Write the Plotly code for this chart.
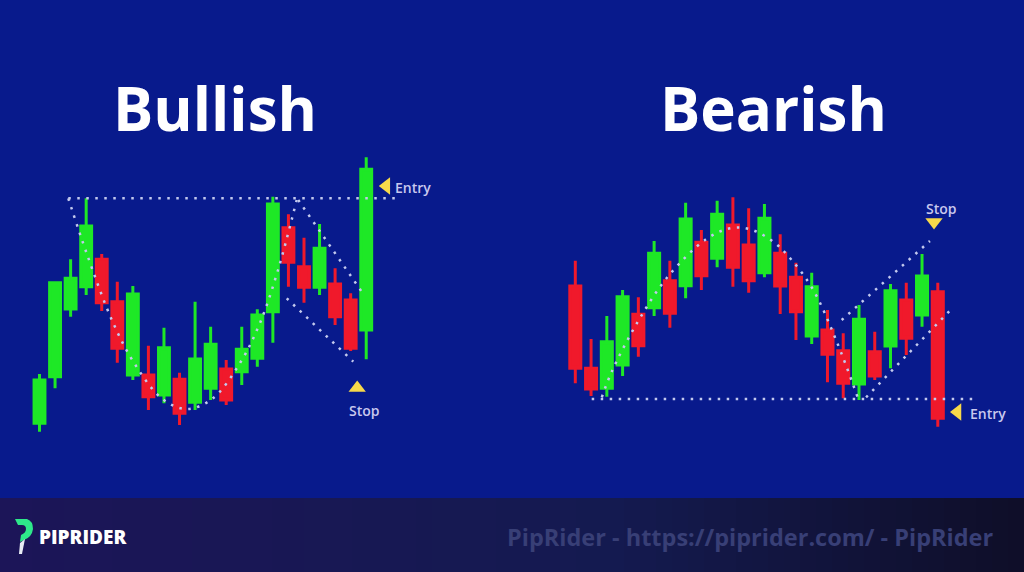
import plotly.graph_objects as go

# ---------------- DATA ----------------
# Bullish pattern (cup & handle) candles
bull_bars  = list(range(1, 23))
bull_open  = [36.7, 83.3, 151, 173.3, 200.7, 158.3, 85, 85, 65, 80.7, 57.7, 71.7, 91, 88.3, 101.7, 148.3, 232.3, 193.3, 172.7, 176, 160, 130]
bull_high  = [86, 178, 200.7, 261.7, 206, 178.3, 174, 114.3, 132.3, 87.3, 158.3, 133.3, 100, 133.3, 150.7, 263.3, 245.7, 222.3, 236, 191.7, 166.7, 302.7]
bull_low   = [28.3, 71.7, 143.3, 165, 149, 97.3, 80, 50, 56.7, 35, 50, 60, 55, 75, 93.3, 117.3, 173.3, 157.3, 165, 135, 109, 100.7]
bull_close = [80, 177.3, 181.7, 234, 157.3, 111.7, 166, 63.3, 112.3, 46.7, 101, 115.7, 60, 110.7, 145, 256, 197.7, 172.7, 211.7, 143.3, 111.7, 290.7]

# Bearish pattern (inverted cup & handle) candles
bear_bars  = list(range(1, 25))
bear_open  = [174, 91.7, 71.7, 95, 145.7, 152.3, 179.3, 174.3, 217.7, 201.7, 235, 215, 187.3, 206.7, 182.7, 124, 130, 109.3, 76, 108.3, 114, 160, 145, 168.3]
bear_high  = [199.3, 121, 144, 170, 162.7, 219, 199.3, 257.3, 230, 259.3, 262.7, 251.7, 256, 225.7, 197.3, 187.3, 150, 126.7, 155, 128.3, 176, 177.3, 206, 177.3]
bear_low   = [76.7, 64, 63.3, 84, 103.3, 144, 132.3, 161.7, 170, 192.7, 173.3, 167.3, 182.7, 146, 120, 116, 77.7, 61.7, 60, 80, 91.7, 105, 133.3, 33.3]
bear_close = [91.7, 71, 118.3, 163.3, 114.3, 206.7, 146.7, 241, 184.3, 245.7, 192.7, 179.3, 241.7, 174, 148.3, 173.3, 105.7, 76.7, 140.7, 84, 169.3, 121.7, 184, 41.7]

# Guide lines (bar position, price)
bull_neck_x = [2.85, 24.17]
bull_neck_y = [261.7, 261.7]
bull_cup_x = [2.85, 4.03, 5.70, 7.07, 8.85, 10.4, 12.07, 13.89, 15.17, 16.33, 17.53]
bull_cup_y = [261.7, 206.7, 138.3, 97.3, 61.7, 51, 60.7, 97, 137, 190, 260]
bull_handle_top_x = [17.63, 21.71]
bull_handle_top_y = [260, 168.3]
bull_handle_bot_x = [16.89, 21.17]
bull_handle_bot_y = [161.7, 98.3]

bear_neck_x = [2.04, 26.47]
bear_neck_y = [61, 61]
bear_dome_x = [2.68, 3.31, 4.93, 6.84, 9.29, 10.82, 12.04, 13.56, 14.73, 16.10, 17.59, 18.96]
bear_dome_y = [62.7, 88.3, 137.3, 182.7, 220.7, 231.7, 231, 218.3, 200, 170, 118.3, 60.7]
bear_wedge_top_x = [17.90, 23.50]
bear_wedge_top_y = [140, 219]
bear_wedge_bot_x = [19.45, 24.95]
bear_wedge_bot_y = [62.7, 152.3]

# Signal markers (bar position, price)
bull_entry = (23.29, 274)
bull_stop = (21.42, 72)
bear_stop = (23.76, 238)
bear_entry = (25.25, 48)

titles = ["Bullish", "Bearish"]
brand = "PIPRIDER"
footer = "PipRider - https://piprider.com/ - PipRider"

# ---------------- STYLE ----------------
W, H = 1024, 572
BG = "#081a8c"
GREEN = "#1ee826"
RED = "#f0192b"
DOT = "#c3c9ee"
YEL = "#f7d94a"
LBL = "#c8c8ee"

fig = go.Figure()


def candles(x, o, h, l, c, xa, ya):
    fig.add_trace(go.Candlestick(
        x=x, open=o, high=h, low=l, close=c, xaxis=xa, yaxis=ya,
        increasing=dict(line=dict(color=GREEN, width=3), fillcolor=GREEN),
        decreasing=dict(line=dict(color=RED, width=3), fillcolor=RED),
        whiskerwidth=0, showlegend=False, hoverinfo="skip"))


def guide(x, y, xa, ya, spline=False):
    fig.add_trace(go.Scatter(
        x=x, y=y, xaxis=xa, yaxis=ya, mode="lines",
        line=dict(color=DOT, width=2.5, dash="2.5px,6.5px",
                  shape="spline" if spline else "linear", smoothing=1.0),
        showlegend=False, hoverinfo="skip"))


def marker(pt, symbol, xa, ya, size):
    fig.add_trace(go.Scatter(
        x=[pt[0]], y=[pt[1]], xaxis=xa, yaxis=ya, mode="markers",
        marker=dict(symbol=symbol, size=size, color=YEL, line=dict(width=0)),
        showlegend=False, hoverinfo="skip"))


candles(bull_bars, bull_open, bull_high, bull_low, bull_close, "x", "y")
candles(bear_bars, bear_open, bear_high, bear_low, bear_close, "x2", "y2")

guide(bull_neck_x, bull_neck_y, "x", "y")
guide(bull_cup_x, bull_cup_y, "x", "y", spline=True)
guide(bull_handle_top_x, bull_handle_top_y, "x", "y")
guide(bull_handle_bot_x, bull_handle_bot_y, "x", "y")

guide(bear_neck_x, bear_neck_y, "x2", "y2")
guide(bear_dome_x, bear_dome_y, "x2", "y2", spline=True)
guide(bear_wedge_top_x, bear_wedge_top_y, "x2", "y2")
guide(bear_wedge_bot_x, bear_wedge_bot_y, "x2", "y2")

marker(bull_entry, "triangle-left", "x", "y", 15)
marker(bull_stop, "triangle-up", "x", "y", 15)
marker(bear_stop, "triangle-down", "x2", "y2", 15)
marker(bear_entry, "triangle-left", "x2", "y2", 15)

lbl_font = dict(family="Open Sans", size=14, color=LBL, weight=600)
ann = [
    dict(x=bull_entry[0] + 0.4, y=bull_entry[1] - 1, xref="x", yref="y", text="Entry",
         xanchor="left", yanchor="middle", showarrow=False, font=lbl_font),
    dict(x=bull_stop[0] + 0.5, y=bull_stop[1] - 22, xref="x", yref="y", text="Stop",
         xanchor="center", yanchor="middle", showarrow=False, font=lbl_font),
    dict(x=bear_stop[0] + 0.5, y=bear_stop[1] + 14, xref="x2", yref="y2", text="Stop",
         xanchor="center", yanchor="middle", showarrow=False, font=lbl_font),
    dict(x=bear_entry[0] + 0.65, y=bear_entry[1] - 1, xref="x2", yref="y2", text="Entry",
         xanchor="left", yanchor="middle", showarrow=False, font=lbl_font),
]

title_font = dict(family="Open Sans", size=60, color="white", weight=700)
ann.append(dict(x=215 / W, y=1 - 108 / H, xref="paper", yref="paper", text=titles[0],
                xanchor="center", yanchor="middle", showarrow=False, font=title_font))
ann.append(dict(x=773 / W, y=1 - 108 / H, xref="paper", yref="paper", text=titles[1],
                xanchor="center", yanchor="middle", showarrow=False, font=title_font))

# ---- bottom banner ----
shapes = []
band_top = 1 - 498 / H


def mix(c1, c2, t):
    a = [int(c1[i:i + 2], 16) for i in (1, 3, 5)]
    b = [int(c2[i:i + 2], 16) for i in (1, 3, 5)]
    return "#%02x%02x%02x" % tuple(round(a[k] + (b[k] - a[k]) * t) for k in range(3))


stops = [(0.0, "#1c1558"), (0.6, "#141a50"), (1.0, "#0f0e28")]
n = 64
for i in range(n):
    t = (i + 0.5) / n
    for j in range(len(stops) - 1):
        if stops[j][0] <= t <= stops[j + 1][0]:
            u = (t - stops[j][0]) / (stops[j + 1][0] - stops[j][0])
            col = mix(stops[j][1], stops[j + 1][1], u)
            break
    shapes.append(dict(type="rect", xref="paper", yref="paper", x0=i / n, x1=(i + 1) / n + 0.002,
                       y0=0, y1=band_top, fillcolor=col, line=dict(width=0), layer="below"))


def px_path(cmds):
    out = []
    for c, pts in cmds:
        s = c
        s += " ".join("%.5f,%.5f" % (x / W, 1 - y / H) for x, y in pts)
        out.append(s)
    return " ".join(out) + " Z"


logo_green = px_path([("M", [(15, 519)]), ("L", [(27, 519)]), ("Q", [(33, 521), (33, 529)]),
                      ("Q", [(32, 537), (24, 540)]), ("L", [(20, 542)]), ("L", [(21, 535)]),
                      ("Q", [(26, 533), (26, 529)]), ("Q", [(26, 525), (22, 525)]), ("L", [(18, 525)])])
logo_white = px_path([("M", [(20, 543)]), ("L", [(25, 539)]), ("L", [(22, 554)]), ("L", [(19, 554)])])
shapes.append(dict(type="path", xref="paper", yref="paper", path=logo_green,
                   fillcolor="#2ee88a", line=dict(width=0)))
shapes.append(dict(type="path", xref="paper", yref="paper", path=logo_white,
                   fillcolor="#e8ecf4", line=dict(width=0)))

ann.append(dict(x=37 / W, y=1 - 537 / H, xref="paper", yref="paper", text=brand,
                xanchor="left", yanchor="middle", showarrow=False,
                font=dict(family="Open Sans", size=19, color="white", weight=800)))
ann.append(dict(x=996 / W, y=1 - 537 / H, xref="paper", yref="paper", text=footer,
                xanchor="right", yanchor="middle", showarrow=False,
                font=dict(family="Open Sans", size=23.5, color="#383f76", weight=700)))

axis_common = dict(showgrid=False, zeroline=False, showticklabels=False, ticks="",
                   showline=False, rangeslider=dict(visible=False), fixedrange=True)
yaxis_common = dict(showgrid=False, zeroline=False, showticklabels=False, ticks="",
                    showline=False, range=[-112, 460], fixedrange=True)

fig.update_layout(
    width=W, height=H, margin=dict(l=0, r=0, t=0, b=0),
    paper_bgcolor=BG, plot_bgcolor=BG,
    boxgap=0.3, boxgroupgap=0,
    xaxis=dict(domain=[0, 0.5], range=[-1.539, 31.37], **axis_common),
    xaxis2=dict(domain=[0.5, 1], range=[-3.017, 29.47], **axis_common),
    yaxis=dict(domain=[0, 1], anchor="x", **yaxis_common),
    yaxis2=dict(domain=[0, 1], anchor="x2", **yaxis_common),
    annotations=ann, shapes=shapes, showlegend=False,
)

fig.write_html("out.html", config={"displayModeBar": False},
               post_script="document.body.style.margin='0';")
